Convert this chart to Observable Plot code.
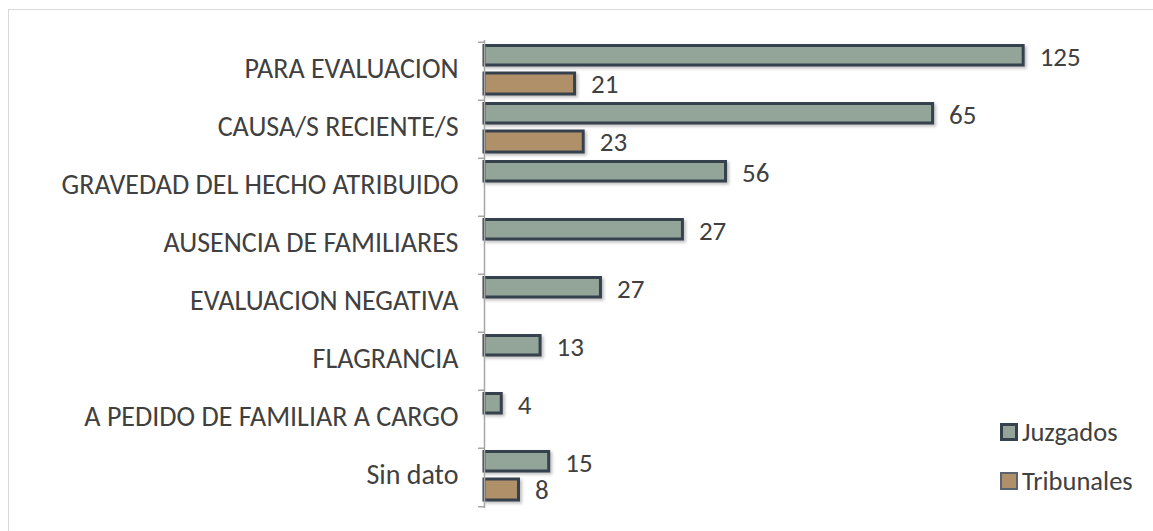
<!DOCTYPE html>
<html>
<head>
<meta charset="utf-8">
<script src="https://cdn.jsdelivr.net/npm/d3@7"></script>
<script src="https://cdn.jsdelivr.net/npm/@observablehq/plot@0.6"></script>
<style>
  html, body { margin: 0; padding: 0; background: #fff; }
  #wrap { position: relative; width: 1153px; height: 531px; overflow: hidden; font-family: Carlito, Calibri, sans-serif; }
  #frame { position: absolute; left: 8px; top: 9px; width: 1160px; height: 540px; border: 1px solid #d9d9d9; box-sizing: border-box; }
  #chart { position: absolute; left: 0; top: 0; }
  #chart g[aria-label="bar"] rect { filter: drop-shadow(2px 2px 1.5px rgba(0,0,0,0.25)); }
  #legend { position: absolute; left: 1000px; top: 417px; color: #404040; font-size: 26.5px; line-height: 30px; }
  .li { display: flex; align-items: center; height: 30px; margin-bottom: 19px; }
  .sw { width: 18px; height: 18px; box-sizing: border-box; margin-right: 4px; }
</style>
</head>
<body>
<div id="wrap">
  <div id="frame"></div>
  <div id="chart"></div>
  <div id="legend"></div>
</div>
<script>
const categories = [
  "PARA EVALUACION",
  "CAUSA/S RECIENTE/S",
  "GRAVEDAD DEL HECHO ATRIBUIDO",
  "AUSENCIA DE FAMILIARES",
  "EVALUACION NEGATIVA",
  "FLAGRANCIA",
  "A PEDIDO DE FAMILIAR A CARGO",
  "Sin dato"
];
// bar lengths as drawn in the reference
const juzgadosBars = [125, 104, 56, 46, 27, 13, 4, 15];
const tribunalesBars = [21, 23, null, null, null, null, null, 8];
// data labels as printed in the reference
const juzgadosLabels = ["125", "65", "56", "27", "27", "13", "4", "15"];
const tribunalesLabels = ["21", "23", null, null, null, null, null, "8"];
const seriesNames = ["Juzgados", "Tribunales"];
const seriesColors = ["#93a498", "#b09068"];
const legendBorders = ["3px solid #36414e", "2px solid #5a6470"];

const juz = categories.map((c, i) => ({cat: c, v: juzgadosBars[i], label: juzgadosLabels[i]}));
const tri = categories.map((c, i) => ({cat: c, v: tribunalesBars[i], label: tribunalesLabels[i]})).filter(d => d.v != null);

const bw = (508 - 40) / categories.length;

const plot = Plot.plot({
  width: 1153,
  height: 531,
  marginTop: 40,
  marginBottom: 23,
  marginLeft: 484,
  marginRight: 22,
  style: {fontFamily: "Carlito, Calibri, sans-serif", color: "#404040", background: "transparent"},
  x: {domain: [0, 150], axis: null},
  y: {domain: categories, padding: 0, label: null},
  marks: [
    Plot.axisY({tickSize: 0, tickPadding: 26, fontSize: 28, fill: "#404040", dy: -2.5}),
    Plot.barX(juz, {x: "v", y: "cat", fill: seriesColors[0], stroke: "#36414e", strokeWidth: 3, insetTop: 3.5, insetBottom: 35}),
    Plot.barX(tri, {x: "v", y: "cat", fill: seriesColors[1], stroke: "#36414e", strokeWidth: 3, insetTop: 31, insetBottom: 6}),
    Plot.text(juz, {x: "v", y: "cat", text: "label", dx: 16, dy: -bw / 2 + 15.5, textAnchor: "start", fontSize: 27, fill: "#404040"}),
    Plot.text(tri, {x: "v", y: "cat", text: "label", dx: 16, dy: bw / 2 - 16, textAnchor: "start", fontSize: 27, fill: "#404040"}),
    Plot.ruleX([0], {stroke: "#a6a6a6", strokeWidth: 1.5}),
    Plot.ruleY(categories, {y: d => d, x1: 0, x2: 0, insetLeft: -6, dy: -bw / 2, stroke: "#a6a6a6", strokeWidth: 1.5}),
    Plot.ruleY(categories.slice(-1), {y: d => d, x1: 0, x2: 0, insetLeft: -6, dy: bw / 2, stroke: "#a6a6a6", strokeWidth: 1.5})
  ]
});
document.getElementById("chart").appendChild(plot);

const legend = document.getElementById("legend");
seriesNames.forEach((n, i) => {
  const row = document.createElement("div");
  row.className = "li";
  const sw = document.createElement("div");
  sw.className = "sw";
  sw.style.background = seriesColors[i];
  sw.style.border = legendBorders[i];
  const t = document.createElement("span");
  t.textContent = n;
  row.appendChild(sw);
  row.appendChild(t);
  legend.appendChild(row);
});
</script>
</body>
</html>
